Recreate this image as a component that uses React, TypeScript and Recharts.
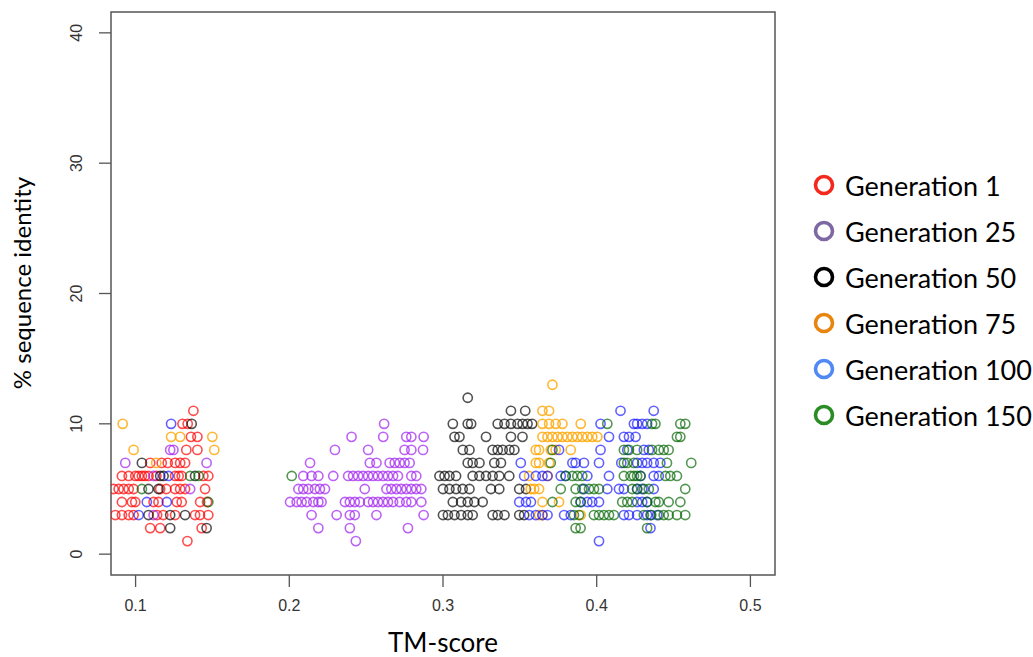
import {ReferenceArea, Scatter, ScatterChart, XAxis, YAxis} from "recharts";

// each row: [% identity, TM-scores at that identity]
type Rows = Array<[number, number[]]>;

const xTicks = [0.1, 0.2, 0.3, 0.4, 0.5];
const yTicks = [0, 10, 20, 30, 40];
const xDomain: [number, number] = [0.084, 0.516];
const yDomain: [number, number] = [-1.6, 41.6];

const gen1: Rows = [
    [11, [0.1376]],
    [10, [0.1305, 0.1339]],
    [9, [0.1360, 0.1402]],
    [8, [0.1330, 0.1402]],
    [7, [0.1095, 0.1170, 0.1209, 0.1257, 0.1290, 0.1322]],
    [6, [0.0911, 0.0955, 0.0998, 0.1020, 0.1041, 0.1060, 0.1084, 0.1135, 0.1257, 0.1280, 0.1300, 0.1441, 0.1473]],
    [5, [0.0857, 0.0890, 0.0922, 0.0955, 0.0987, 0.1160, 0.1200, 0.1257, 0.1290, 0.1322, 0.1452]],
    [4, [0.0911, 0.0976, 0.0998, 0.1117, 0.1149, 0.1268, 0.1300, 0.1420, 0.1465]],
    [3, [0.0868, 0.0911, 0.0955, 0.0987, 0.1140, 0.1180, 0.1257, 0.1387, 0.1419, 0.1473]],
    [2, [0.1095, 0.1160, 0.1430]],
    [1, [0.1337]],
];

const gen25: Rows = [
    [10, [0.2617]],
    [9, [0.2405, 0.2611, 0.2761, 0.2794, 0.2874]],
    [8, [0.1225, 0.1246, 0.2297, 0.2513, 0.2750, 0.2794, 0.2870]],
    [7, [0.0933, 0.1462, 0.2135, 0.2524, 0.2567, 0.2653, 0.2686, 0.2718, 0.2750, 0.2783]],
    [6, [0.1117, 0.2091, 0.2145, 0.2189, 0.2286, 0.2383, 0.2415, 0.2448, 0.2480, 0.2513, 0.2545, 0.2577, 0.2610, 0.2642, 0.2675, 0.2707, 0.2794, 0.2826]],
    [5, [0.1355, 0.2059, 0.2091, 0.2124, 0.2167, 0.2199, 0.2232, 0.2491, 0.2632, 0.2664, 0.2697, 0.2729, 0.2762, 0.2794, 0.2826, 0.2859]],
    [4, [0.2005, 0.2048, 0.2080, 0.2113, 0.2156, 0.2189, 0.2210, 0.2362, 0.2394, 0.2426, 0.2459, 0.2513, 0.2545, 0.2577, 0.2610, 0.2642, 0.2675, 0.2718, 0.2761, 0.2794, 0.2859]],
    [3, [0.1117, 0.2145, 0.2308, 0.2394, 0.2426, 0.2567, 0.2874]],
    [2, [0.2189, 0.2394, 0.2772]],
    [1, [0.2433]],
];

const gen50: Rows = [
    [12, [0.3161]],
    [11, [0.3442, 0.3535]],
    [10, [0.1365, 0.3064, 0.3161, 0.3183, 0.3356, 0.3400, 0.3442, 0.3485, 0.3518, 0.3550, 0.3580]],
    [9, [0.3075, 0.3107, 0.3280, 0.3442, 0.3517]],
    [8, [0.3129, 0.3172, 0.3323, 0.3356, 0.3388, 0.3432, 0.3464]],
    [7, [0.1041, 0.3161, 0.3193, 0.3237, 0.3334, 0.3377]],
    [6, [0.1160, 0.1182, 0.1387, 0.2977, 0.3010, 0.3042, 0.3085, 0.3193, 0.3237, 0.3280, 0.3323, 0.3366, 0.3431]],
    [5, [0.1084, 0.1149, 0.3000, 0.3042, 0.3085, 0.3128, 0.3172, 0.3312, 0.3366, 0.3496, 0.3540]],
    [4, [0.3064, 0.3118, 0.3161, 0.3204, 0.3258]],
    [3, [0.1084, 0.1225, 0.1322, 0.3000, 0.3032, 0.3075, 0.3118, 0.3161, 0.3193, 0.3323, 0.3356, 0.3400, 0.3496, 0.3528]],
    [2, [0.1225, 0.1462]],
];

const gen75: Rows = [
    [13, [0.3712]],
    [11, [0.3647, 0.3690]],
    [10, [0.0916, 0.3647, 0.3690, 0.3733, 0.3777, 0.3896]],
    [9, [0.1231, 0.1290, 0.1499, 0.3647, 0.3680, 0.3712, 0.3745, 0.3777, 0.3809, 0.3842, 0.3874, 0.3906, 0.3939, 0.3971, 0.4004]],
    [8, [0.0987, 0.1512, 0.3604, 0.3625, 0.3701, 0.3733, 0.3831]],
    [7, [0.1134, 0.3604, 0.3625, 0.3690]],
    [6, [0.3560, 0.3680]],
    [5, [0.3571, 0.3593, 0.3625]],
    [4, [0.3647, 0.3755]],
    [3, [0.3625, 0.3647, 0.3896]],
];

const gen100: Rows = [
    [11, [0.4155, 0.4371]],
    [10, [0.1231, 0.4025, 0.4242, 0.4263, 0.4296, 0.4328]],
    [9, [0.4080, 0.4177, 0.4210, 0.4253]],
    [8, [0.3755, 0.4025, 0.4199, 0.4307, 0.4339]],
    [7, [0.3506, 0.3842, 0.3863, 0.3917, 0.4015, 0.4160, 0.4263, 0.4296, 0.4328, 0.4371, 0.4414]],
    [6, [0.1214, 0.3528, 0.3604, 0.3647, 0.3680, 0.3766, 0.3798, 0.3939, 0.4080, 0.4285, 0.4371, 0.4404]],
    [5, [0.3917, 0.4069, 0.4145, 0.4177, 0.4263, 0.4296, 0.4371]],
    [4, [0.1073, 0.1203, 0.3496, 0.3540, 0.3572, 0.3896, 0.3939, 0.3971, 0.4015, 0.4263, 0.4296, 0.4328]],
    [3, [0.1020, 0.3561, 0.3604, 0.3647, 0.3680, 0.3788, 0.3831, 0.4177, 0.4210, 0.4263, 0.4328, 0.4350, 0.4393]],
    [2, [0.4350]],
    [1, [0.4015]],
];

const gen150: Rows = [
    [10, [0.4069, 0.4360, 0.4382, 0.4544, 0.4576]],
    [9, [0.4522, 0.4544]],
    [8, [0.3712, 0.4177, 0.4210, 0.4263, 0.4360, 0.4404, 0.4436, 0.4468]],
    [7, [0.3701, 0.4177, 0.4199, 0.4242, 0.4457, 0.4615]],
    [6, [0.1355, 0.1410, 0.2016, 0.3798, 0.3842, 0.3874, 0.3906, 0.4177, 0.4220, 0.4242, 0.4263, 0.4285, 0.4447, 0.4479, 0.4522]],
    [5, [0.1041, 0.3766, 0.3863, 0.3906, 0.3950, 0.3982, 0.4015, 0.4231, 0.4263, 0.4307, 0.4339, 0.4576]],
    [4, [0.1473, 0.3712, 0.3863, 0.3895, 0.4166, 0.4199, 0.4231, 0.4328, 0.4382, 0.4404, 0.4468, 0.4544]],
    [3, [0.3852, 0.3885, 0.3982, 0.4015, 0.4047, 0.4080, 0.4112, 0.4307, 0.4355, 0.4404, 0.4436, 0.4468, 0.4522, 0.4576]],
    [2, [0.3863, 0.3895, 0.4328]],
];

const generations = [
    {name: "Generation 1", rows: gen1, stroke: "rgba(255,0,0,0.7)", key: "#f2291c"},
    {name: "Generation 25", rows: gen25, stroke: "rgba(160,32,240,0.7)", key: "#7d68a3"},
    {name: "Generation 50", rows: gen50, stroke: "rgba(0,0,0,0.68)", key: "#000000"},
    {name: "Generation 75", rows: gen75, stroke: "rgba(255,165,0,0.8)", key: "#e8850f"},
    {name: "Generation 100", rows: gen100, stroke: "rgba(0,0,255,0.62)", key: "#5089f4"},
    {name: "Generation 150", rows: gen150, stroke: "rgba(0,100,0,0.68)", key: "#2b8c25"},
];

function toPoints(rows: Rows) {
    return rows.flatMap(([y, xs]) => xs.map(x => ({x, y})));
}

const tickFont = "'Liberation Sans', Arial, sans-serif";
const titleFont = "Lato, 'Open Sans', sans-serif";

function XTick(props: any) {
    const {x, y, payload} = props;
    return <text x={x} y={y + 22} textAnchor="middle" fontFamily={tickFont} fontSize={16} fill="#333">
        {payload.value}
    </text>;
}

function YTick(props: any) {
    const {x, y, payload} = props;
    const tx = x - 15;
    return <text x={tx} y={y} transform={`rotate(-90, ${tx}, ${y})`} textAnchor="middle"
                 fontFamily={tickFont} fontSize={16} fill="#333">
        {payload.value}
    </text>;
}

function ringShape(stroke: string) {
    return (p: any) => <circle cx={p.cx} cy={p.cy} r={4.6} fill="none" stroke={stroke} strokeWidth={1.6}/>;
}

function KeyList() {
    return <div style={{
        position: "absolute", left: 812, top: 162, fontFamily: titleFont, fontSize: 27, color: "#000",
        whiteSpace: "nowrap"
    }}>
        {generations.map(g => (
            <div key={g.name} style={{display: "flex", alignItems: "center", height: 46}}>
                <svg width={26} height={26} style={{marginRight: 7, flexShrink: 0}}>
                    <circle cx={12} cy={13} r={8.5} fill="none" stroke={g.key} strokeWidth={3.6}/>
                </svg>
                <span>{g.name}</span>
            </div>
        ))}
    </div>;
}

export default function App() {
    return <div style={{position: "absolute", left: 0, top: 0, width: 1033, height: 657, background: "#fff"}}>
        <ScatterChart width={1033} height={657} margin={{top: 12, right: 258, bottom: 0, left: 0}}>
            <XAxis type="number" dataKey="x" domain={xDomain} ticks={xTicks} allowDataOverflow
                   axisLine={false} tickLine={{stroke: "#555", strokeWidth: 1.3}} tickSize={12} height={82}
                   tick={<XTick/>}
                   label={{
                       content: (p: any) => <text x={p.viewBox.x + p.viewBox.width / 2} y={p.viewBox.y + 77}
                                                  textAnchor="middle" fontFamily={titleFont} fontSize={26}
                                                  fill="#000">TM-score</text>
                   }}/>
            <YAxis type="number" dataKey="y" domain={yDomain} ticks={yTicks} allowDataOverflow
                   axisLine={false} tickLine={{stroke: "#555", strokeWidth: 1.3}} tickSize={12} width={111}
                   tick={<YTick/>}
                   label={{
                       content: () => <text x={31} y={283} transform="rotate(-90, 31, 283)" textAnchor="middle"
                                            fontFamily={titleFont} fontSize={24}
                                            fill="#000">% sequence identity</text>
                   }}/>
            <ReferenceArea x1={xDomain[0]} x2={xDomain[1]} y1={yDomain[0]} y2={yDomain[1]}
                           fill="none" stroke="#555" strokeWidth={1.5} ifOverflow="visible"/>
            {generations.map(g => (
                <Scatter key={g.name} name={g.name} data={toPoints(g.rows)} shape={ringShape(g.stroke)}
                         isAnimationActive={false}/>
            ))}
        </ScatterChart>
        <KeyList/>
    </div>;
}
